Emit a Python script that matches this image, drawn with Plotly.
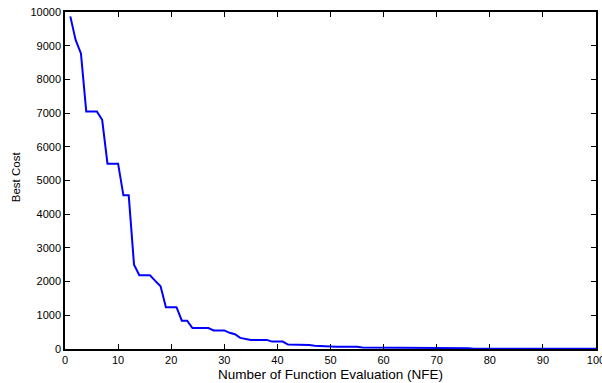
import plotly.graph_objects as go

nfe = list(range(1, 101))
best_cost = (
    [9870, 9170, 8770, 7050, 7050, 7050, 6800, 5500, 5500, 5500,
     4560, 4560, 2500, 2190, 2190, 2190, 2020, 1860, 1240, 1240,
     1240, 840, 840, 620, 620, 620, 620, 550, 550, 550,
     480, 440, 330, 300, 270, 270, 270, 270, 220, 220,
     220, 130, 130, 130, 130, 120, 100, 90, 75, 70,
     70, 70, 70, 70, 70, 45, 45, 45, 45, 45,
     45]
    + [25] * 15
    + [10] * 24
)

x_ticks = list(range(0, 101, 10))
y_ticks = list(range(0, 10001, 1000))
x_title = "Number of Function Evaluation (NFE)"
y_title = "Best Cost"

fig = go.Figure()
fig.add_trace(go.Scatter(x=nfe, y=best_cost, mode="lines",
                         line=dict(color="#0000ff", width=2)))

axis_common = dict(showgrid=False, zeroline=False, showline=True,
                   linecolor="black", linewidth=1.5, mirror="allticks",
                   ticks="inside", ticklen=5, tickwidth=1, tickcolor="black",
                   ticklabeloverflow="allow", automargin=False,
                   tickfont=dict(family="Liberation Sans, Arial", size=11, color="black"))

fig.update_layout(
    width=602, height=383,
    margin=dict(l=65, r=6, t=12, b=34),
    paper_bgcolor="white", plot_bgcolor="white",
    showlegend=False,
    font=dict(family="Liberation Sans, Arial", color="black"),
    xaxis=dict(range=[0, 100], tickvals=x_ticks, **axis_common),
    yaxis=dict(range=[0, 10000], tickvals=y_ticks, tickformat="d", **axis_common),
    annotations=[
        dict(text=x_title, xref="paper", yref="paper", x=0.5, y=-0.048,
             xanchor="center", yanchor="top", showarrow=False,
             font=dict(size=13.5)),
        dict(text=y_title, xref="paper", yref="paper", x=-0.092, y=0.51,
             xanchor="center", yanchor="middle", showarrow=False,
             textangle=-90, font=dict(size=11.5)),
    ],
)

fig.write_html("out.html", config={"displayModeBar": False},
               post_script="document.body.style.margin='0';")
